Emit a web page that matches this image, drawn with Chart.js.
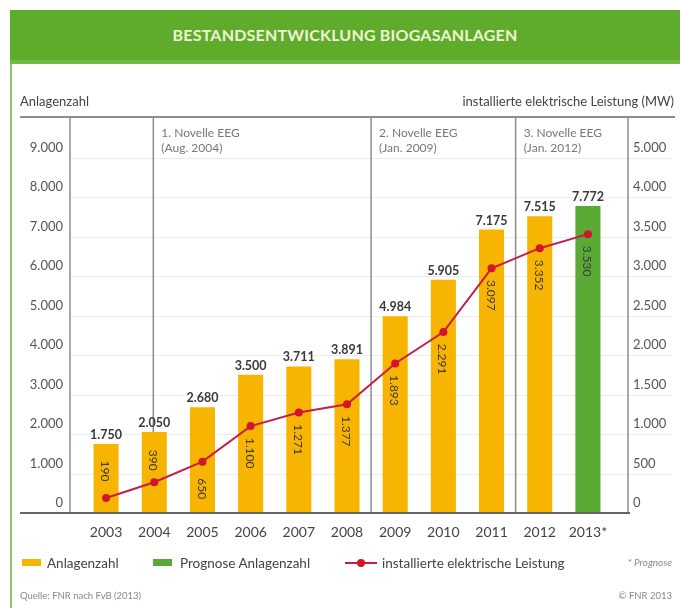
<!DOCTYPE html>
<html lang="de">
<head>
<meta charset="utf-8">
<title>Bestandsentwicklung Biogasanlagen</title>
<script src="https://cdn.jsdelivr.net/npm/chart.js@4.4.1/dist/chart.umd.min.js"></script>
<style>
    body { margin: 0; background: #fff; font-family: Lato, "Open Sans", sans-serif; }
    #wrap { position: relative; width: 680px; height: 608px; overflow: hidden; }
    #chart { position: absolute; left: 0; top: 0; }
    .frame { position: absolute; left: 10px; top: 10px; width: 2px; height: 598px; background: #8cc866; }
    .header {
        position: absolute; left: 10px; top: 10px; width: 670px; height: 50px;
        background: #5fac2c; border-bottom: 4px solid #74b844;
        color: #eef5d2; font-weight: bold; font-size: 16px; letter-spacing: 0.2px;
        text-align: center; line-height: 50px;
    }
    .t { position: absolute; white-space: nowrap; color: #444; }
    .axt { top: 93px; font-size: 13px; }
    .leg { top: 555px; font-size: 13.5px; }
    .sw { position: absolute; top: 559px; height: 7px; width: 19px; }
    .foot { top: 590px; font-size: 9.5px; color: #888; }
</style>
</head>
<body>
<div id="wrap">
    <canvas id="chart" width="680" height="608"></canvas>
    <div class="frame"></div>
    <div class="header">BESTANDSENTWICKLUNG BIOGASANLAGEN</div>
    <div class="t axt" style="left:20px">Anlagenzahl</div>
    <div class="t axt" style="right:6px">installierte elektrische Leistung (MW)</div>

    <div class="sw" style="left:22px; background:#f7b400"></div>
    <div class="t leg" style="left:47px">Anlagenzahl</div>
    <div class="sw" style="left:153px; background:#5aa934"></div>
    <div class="t leg" style="left:180px">Prognose Anlagenzahl</div>
    <div class="sw" style="left:345px; top:562px; height:2px; width:32px; background:#c41e4a"></div>
    <div class="sw" style="left:357px; top:559px; height:8px; width:8px; border-radius:50%; background:#d4142c"></div>
    <div class="t leg" style="left:382px">installierte elektrische Leistung</div>
    <div class="t" style="right:8px; top:556px; font-size:10px; font-style:italic; color:#888">* Prognose</div>

    <div class="t foot" style="left:20px">Quelle: FNR nach FvB (2013)</div>
    <div class="t foot" style="right:8px">© FNR 2013</div>
</div>

<script>
// Data
const years = ['2003', '2004', '2005', '2006', '2007', '2008', '2009', '2010', '2011', '2012', '2013*'];
const anlagenzahl = [1750, 2050, 2680, 3500, 3711, 3891, 4984, 5905, 7175, 7515, null];
const prognoseAnlagenzahl = [null, null, null, null, null, null, null, null, null, null, 7772];
const leistungMW = [190, 390, 650, 1100, 1271, 1377, 1893, 2291, 3097, 3352, 3530];

// tick labels of the right axis, as printed in the original (4.500 is labelled 5.000 there)
const rightTickLabels = ['0', '500', '1.000', '1.500', '2.000', '2.500', '3.000', '3.500', '4.000', '5.000'];

// EEG amendments: position on the category axis + text
const novellen = [
    { at: 0.98, text: ['1. Novelle EEG', '(Aug. 2004)'] },
    { at: 5.5, text: ['2. Novelle EEG', '(Jan. 2009)'] },
    { at: 8.5, text: ['3. Novelle EEG', '(Jan. 2012)'] }
];

const FONT = 'Lato, "Open Sans", sans-serif';

function fmt(v) {
    return String(v).replace(/\B(?=(\d{3})+(?!\d))/g, '.');
}

// x pixel for a fractional category position
function xAt(scale, pos) {
    const i = Math.floor(pos);
    const a = scale.getPixelForValue(i);
    const b = scale.getPixelForValue(i + 1);
    return a + (b - a) * (pos - i);
}

// grid, axis lines, separators and labels
const decorPlugin = {
    id: 'decor',
    beforeDatasetsDraw(chart) {
        const { ctx, chartArea, scales } = chart;
        const y = scales.y, x = scales.x;
        const left = chartArea.left - 12, right = chartArea.right + 16;
        ctx.save();

        // faint grid lines
        ctx.strokeStyle = '#ececec';
        ctx.lineWidth = 1;
        for (let v = 1000; v < 10000; v += 1000) {
            const py = Math.round(y.getPixelForValue(v)) + 0.5;
            ctx.beginPath();
            ctx.moveTo(left, py);
            ctx.lineTo(672, py);
            ctx.stroke();
        }

        // header rule under the axis titles
        ctx.strokeStyle = '#666';
        ctx.lineWidth = 1.5;
        ctx.beginPath();
        ctx.moveTo(20, chartArea.top - 1);
        ctx.lineTo(675, chartArea.top - 1);
        ctx.stroke();

        // vertical lines: axes and EEG amendments
        ctx.strokeStyle = '#8c8c8c';
        ctx.lineWidth = 1.5;
        const xs = [left, right].concat(novellen.map(n => xAt(x, n.at)));
        xs.forEach(px => {
            ctx.beginPath();
            ctx.moveTo(px, chartArea.top - 1);
            ctx.lineTo(px, chartArea.bottom);
            ctx.stroke();
        });

        // EEG texts
        ctx.fillStyle = '#777';
        ctx.font = '12px ' + FONT;
        ctx.textAlign = 'left';
        ctx.textBaseline = 'middle';
        novellen.forEach(n => {
            const px = xAt(x, n.at) + 8;
            ctx.fillText(n.text[0], px, chartArea.top + 15);
            ctx.fillText(n.text[1], px, chartArea.top + 30);
        });
        ctx.restore();
    },
    afterDatasetsDraw(chart) {
        const { ctx, chartArea } = chart;
        const base = chartArea.bottom;
        ctx.save();

        // baseline
        ctx.strokeStyle = '#666';
        ctx.lineWidth = 2;
        ctx.beginPath();
        ctx.moveTo(20, base);
        ctx.lineTo(chartArea.right + 18, base);
        ctx.stroke();

        // values above the bars
        ctx.fillStyle = '#3a3a3a';
        ctx.font = 'bold 12.5px ' + FONT;
        ctx.textAlign = 'center';
        ctx.textBaseline = 'middle';
        [0, 1].forEach(di => {
            const meta = chart.getDatasetMeta(di);
            meta.data.forEach((bar, i) => {
                const v = chart.data.datasets[di].data[i];
                if (v == null) return;
                ctx.fillText(fmt(v), bar.x, bar.y - 9);
            });
        });

        // power values, rotated inside the bars (below the point, or above it if no room)
        const lineMeta = chart.getDatasetMeta(2);
        ctx.font = '12px ' + FONT;
        lineMeta.data.forEach((pt, i) => {
            const label = fmt(leistungMW[i]);
            const half = ctx.measureText(label).width / 2;
            let cy = pt.y + 27;
            if (cy + half > base - 8) cy = Math.min(base - 42, pt.y - 22);
            ctx.save();
            ctx.translate(pt.x, cy);
            ctx.rotate(Math.PI / 2);
            ctx.fillText(label, 0, 1);
            ctx.restore();
        });
        ctx.restore();
    }
};

new Chart(document.getElementById('chart'), {
    type: 'bar',
    data: {
        labels: years,
        datasets: [{
            label: 'Anlagenzahl',
            data: anlagenzahl,
            backgroundColor: '#f7b400',
            grouped: false,
            barPercentage: 0.52,
            categoryPercentage: 1,
            order: 1
        }, {
            label: 'Prognose Anlagenzahl',
            data: prognoseAnlagenzahl,
            backgroundColor: '#5aa934',
            grouped: false,
            barPercentage: 0.52,
            categoryPercentage: 1,
            order: 1
        }, {
            type: 'line',
            label: 'installierte elektrische Leistung',
            data: leistungMW,
            yAxisID: 'y1',
            borderColor: '#c41e4a',
            borderWidth: 2,
            pointRadius: 4,
            pointBackgroundColor: '#d4142c',
            pointBorderWidth: 0,
            tension: 0,
            order: 0
        }]
    },
    options: {
        responsive: false,
        animation: false,
        devicePixelRatio: 1,
        layout: {
            padding: { left: 0, right: 0, top: 118, bottom: 65 }
        },
        plugins: {
            legend: { display: false },
            tooltip: { enabled: false }
        },
        scales: {
            x: {
                grid: { display: false, drawTicks: false },
                border: { display: false },
                ticks: {
                    color: '#444',
                    padding: 11,
                    font: { family: FONT, size: 14 }
                },
                afterFit(scale) { scale.height = 30; }
            },
            y: {
                position: 'left',
                min: 0,
                max: 10000,
                grid: { display: false, drawTicks: false },
                border: { display: false },
                ticks: {
                    stepSize: 1000,
                    color: '#555',
                    padding: 19,
                    labelOffset: -10,
                    font: { family: FONT, size: 13 },
                    callback: function(value) {
                        return value < 10000 ? fmt(value) : null;
                    }
                },
                afterFit(scale) { scale.width = 82; }
            },
            y1: {
                position: 'right',
                min: 0,
                max: 5000,
                grid: { display: false, drawTicks: false },
                border: { display: false },
                ticks: {
                    stepSize: 500,
                    color: '#555',
                    padding: 21,
                    labelOffset: -10,
                    font: { family: FONT, size: 13 },
                    callback: function(value, index) {
                        return rightTickLabels[index] !== undefined ? rightTickLabels[index] : null;
                    }
                },
                afterFit(scale) { scale.width = 68; }
            }
        }
    },
    plugins: [decorPlugin]
});
</script>
</body>
</html>
